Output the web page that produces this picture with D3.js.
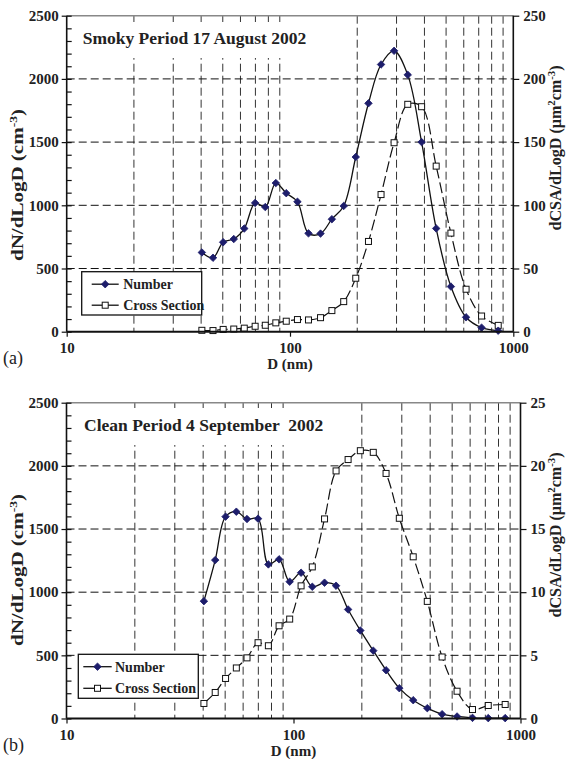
<!DOCTYPE html>
<html>
<head>
<meta charset="utf-8">
<script src="https://cdn.jsdelivr.net/npm/d3@7"></script>
<style>
  body { margin: 0; background: #fff; }
  text { font-family: "Liberation Serif", "Times New Roman", serif; }
</style>
</head>
<body>
<div id="chart"></div>
<script>
// size bins (nm), same instrument on both days
const diameters = [40.3, 45.2, 50.2, 56, 62.4, 69.8, 77.5, 86.4, 96.2, 108, 121, 137, 154, 174, 197,
                   224.6, 255.7, 292.5, 336.8, 388.5, 451.5, 525.5, 614.5, 721, 856];

// (a) smoky period 17 August 2002
const smokyNumber = [627, 585, 708, 733, 816, 1019, 986, 1176, 1096, 1028, 778, 776, 890, 995, 1382,
                     1807, 2114, 2222, 2032, 1500, 817, 357, 114, 32, 8];
const smokyCSA = [1.1, 0.9, 1.8, 2.1, 2.8, 4.3, 5.1, 7.0, 8.3, 9.6, 9.3, 11.1, 16.7, 23.8, 42.3,
                  71.4, 108.5, 149.5, 179.9, 178, 131, 78, 33.6, 12.4, 5.0];

// (b) clean period 4 September 2002
const cleanNumber = [929, 1254, 1598, 1637, 1579, 1582, 1220, 1260, 1083, 1154, 1043, 1075, 1051, 863, 697,
                     537, 382, 240, 145, 82, 34, 16, 5, 3, 3];
const cleanCSA = [1.19, 2.06, 3.17, 4.0, 4.8, 6.0, 5.76, 7.34, 7.87, 10.5, 12.0, 15.8, 19.6, 20.5, 21.2,
                  21.07, 19.4, 15.85, 12.8, 9.27, 4.87, 2.16, 0.71, 1.03, 1.11];

// ticks & grid
const xTicks = [10, 100, 1000];
const xGrid = [20, 30, 40, 50, 60, 70, 80, 90, 200, 300, 400, 500, 600, 700, 800, 900];
const numberTicks = [0, 500, 1000, 1500, 2000, 2500];
const numberMinor = d3.range(0, 2501, 100).filter(v => v % 500 !== 0);
const numberGrid = [500, 1000, 1500, 2000];
const csaTicksA = [0, 50, 100, 150, 200, 250];
const csaTicksB = [0, 5, 10, 15, 20, 25];

const NAVY = "#1d1d6b";

const svg = d3.select("#chart").append("svg")
    .attr("width", 566)
    .attr("height", 759);

function drawPanel(p) {
    const x = d3.scaleLog().domain([10, 1000]).range([p.left, p.right]);
    const y = d3.scaleLinear().domain([0, 2500]).range([p.bottom, p.top]);
    const y2 = d3.scaleLinear().domain([0, p.csaMax]).range([p.bottom, p.top]);

    const g = svg.append("g");

    // vertical dashed grid
    g.append("g").selectAll("line")
        .data(xGrid)
        .enter().append("line")
        .attr("x1", d => x(d)).attr("x2", d => x(d))
        .attr("y1", p.top).attr("y2", p.bottom)
        .attr("stroke", "#333")
        .attr("stroke-width", 1)
        .attr("stroke-dasharray", "8,4");

    // horizontal dashed grid
    g.append("g").selectAll("line")
        .data(numberGrid)
        .enter().append("line")
        .attr("x1", p.left).attr("x2", p.right)
        .attr("y1", d => y(d)).attr("y2", d => y(d))
        .attr("stroke", "#111")
        .attr("stroke-width", 1)
        .attr("stroke-dasharray", "8,4");

    // title box covers the grid
    g.append("rect")
        .attr("x", p.titleBox[0]).attr("y", p.titleBox[1])
        .attr("width", p.titleBox[2]).attr("height", p.titleBox[3])
        .attr("fill", "#fff");
    g.append("text")
        .attr("x", p.titleX).attr("y", p.titleY)
        .attr("font-size", 17.5)
        .attr("font-weight", "bold")
        .attr("fill", "#222")
        .attr("xml:space", "preserve")
        .text(p.title);

    // top border
    g.append("line")
        .attr("x1", p.left).attr("x2", p.right)
        .attr("y1", p.top).attr("y2", p.top)
        .attr("stroke", "#888").attr("stroke-width", 1.5);

    // series
    const pts = (vals, sc) => diameters.map((d, i) => [x(d), sc(vals[i])]);
    const line = d3.line().curve(d3.curveCatmullRom.alpha(0.5));

    const csaPts = pts(p.csa, y2);
    const numPts = pts(p.number, y);

    g.append("path")
        .attr("d", line(csaPts))
        .attr("fill", "none")
        .attr("stroke", "#111")
        .attr("stroke-width", 1.2)
        .attr("stroke-dasharray", "11,4");

    g.append("path")
        .attr("d", line(numPts))
        .attr("fill", "none")
        .attr("stroke", "#111")
        .attr("stroke-width", 1.3);

    g.append("g").selectAll("rect")
        .data(csaPts)
        .enter().append("rect")
        .attr("x", d => d[0] - 3).attr("y", d => d[1] - 3)
        .attr("width", 6).attr("height", 6)
        .attr("fill", "#fff")
        .attr("stroke", "#111")
        .attr("stroke-width", 1);

    const diamond = d3.symbol().type(d3.symbolDiamond2).size(36);
    g.append("g").selectAll("path")
        .data(numPts)
        .enter().append("path")
        .attr("d", diamond)
        .attr("transform", d => `translate(${d[0]},${d[1]})`)
        .attr("fill", NAVY)
        .attr("stroke", NAVY)
        .attr("stroke-width", 0.8);

    // legend
    const lg = p.legend;
    g.append("rect")
        .attr("x", lg.x).attr("y", lg.y)
        .attr("width", lg.w).attr("height", lg.h)
        .attr("fill", "#fff")
        .attr("stroke", "#111")
        .attr("stroke-width", 1.3);
    [0, 1].forEach(i => {
        const ry = lg.y + lg.rows[i];
        g.append("line")
            .attr("x1", lg.x + lg.sx0).attr("x2", lg.x + lg.sx1)
            .attr("y1", ry).attr("y2", ry)
            .attr("stroke", "#111").attr("stroke-width", 1.3);
        const mx = lg.x + (lg.sx0 + lg.sx1) / 2;
        if (i === 0) {
            g.append("path").attr("d", diamond)
                .attr("transform", `translate(${mx},${ry})`)
                .attr("fill", NAVY).attr("stroke", NAVY).attr("stroke-width", 0.8);
        } else {
            g.append("rect")
                .attr("x", mx - 3).attr("y", ry - 3)
                .attr("width", 6).attr("height", 6)
                .attr("fill", "#fff").attr("stroke", "#111");
        }
        g.append("text")
            .attr("x", lg.x + lg.tx).attr("y", ry + 5)
            .attr("font-size", 14)
            .attr("font-weight", "bold")
            .attr("fill", "#222")
            .text(i === 0 ? "Number" : "Cross Section");
    });

    // axes
    const styleAxis = sel => {
        sel.select(".domain").remove();
        sel.selectAll(".tick line").attr("stroke", "#111").attr("stroke-width", 1.2);
        sel.selectAll(".tick text")
            .attr("font-family", "Liberation Serif")
            .attr("font-size", 15)
            .attr("font-weight", "bold")
            .attr("fill", "#222");
    };
    const fmt = d3.format("d");

    g.append("g")
        .attr("transform", `translate(${p.left},0)`)
        .call(d3.axisLeft(y).tickValues(numberTicks).tickFormat(fmt).tickSizeInner(5).tickSizeOuter(0).tickPadding(3))
        .call(styleAxis);
    g.append("g")
        .attr("transform", `translate(${p.left},0)`)
        .call(d3.axisRight(y).tickValues(numberTicks.concat(numberMinor)).tickSize(5).tickFormat(""))
        .call(styleAxis);

    g.append("g")
        .attr("transform", `translate(${p.right},0)`)
        .call(d3.axisRight(y2).tickValues(p.csaTicks).tickFormat(fmt).tickSizeInner(6).tickSizeOuter(0).tickPadding(4))
        .call(styleAxis);

    g.append("g")
        .attr("transform", `translate(0,${p.bottom})`)
        .call(d3.axisBottom(x).tickValues(xTicks).tickFormat(fmt).tickSizeInner(5).tickSizeOuter(0).tickPadding(6))
        .call(styleAxis);

    // axis lines
    g.append("line")
        .attr("x1", p.left).attr("x2", p.left)
        .attr("y1", p.top).attr("y2", p.bottom)
        .attr("stroke", "#111").attr("stroke-width", 1.6);
    g.append("line")
        .attr("x1", p.right).attr("x2", p.right)
        .attr("y1", p.top).attr("y2", p.bottom)
        .attr("stroke", "#111").attr("stroke-width", 1.6);
    g.append("line")
        .attr("x1", p.left).attr("x2", p.right)
        .attr("y1", p.bottom).attr("y2", p.bottom)
        .attr("stroke", "#111").attr("stroke-width", 2);

    // axis titles
    g.append("text")
        .attr("x", x(100)).attr("y", p.bottom + 37)
        .attr("text-anchor", "middle")
        .attr("font-size", 15).attr("font-weight", "bold").attr("fill", "#222")
        .text("D (nm)");

    g.append("text")
        .attr("x", 3).attr("y", p.bottom + 32)
        .attr("font-size", 18).attr("fill", "#222")
        .text(p.tag);

    const yl = g.append("text")
        .attr("transform", `translate(23,${p.leftLabelY}) rotate(-90)`)
        .attr("text-anchor", "middle")
        .attr("font-size", 17).attr("font-weight", "bold").attr("fill", "#222")
        .attr("textLength", 152)
        .attr("lengthAdjust", "spacingAndGlyphs");
    yl.append("tspan").text("dN/dLogD (cm");
    yl.append("tspan").attr("baseline-shift", "super").attr("font-size", 11).text("-3");
    yl.append("tspan").text(")");

    const yr = g.append("text")
        .attr("transform", `translate(561,${p.rightLabelY}) rotate(-90)`)
        .attr("text-anchor", "middle")
        .attr("font-size", 16.5).attr("font-weight", "bold").attr("fill", "#222")
        .attr("textLength", 165)
        .attr("lengthAdjust", "spacingAndGlyphs");
    yr.append("tspan").text("dCSA/dLogD (\u03bcm");
    yr.append("tspan").attr("baseline-shift", "super").attr("font-size", 11).text("2");
    yr.append("tspan").attr("baseline-shift", "baseline").text("cm");
    yr.append("tspan").attr("baseline-shift", "super").attr("font-size", 11).text("-3");
    yr.append("tspan").attr("baseline-shift", "baseline").text(")");
}

drawPanel({
    left: 66.7, right: 513.3, top: 15.7, bottom: 331.7,
    number: smokyNumber, csa: smokyCSA, csaMax: 250, csaTicks: csaTicksA,
    title: "Smoky Period 17 August 2002",
    titleBox: [72, 22, 240, 36], titleX: 82.7, titleY: 43.5,
    legend: { x: 81.7, y: 271.7, w: 120, h: 43.3, rows: [12.5, 33.5], sx0: 10, sx1: 37, tx: 41.5 },
    tag: "(a)", leftLabelY: 185, rightLabelY: 148
});

drawPanel({
    left: 66.5, right: 520.5, top: 402.7, bottom: 718.5,
    number: cleanNumber, csa: cleanCSA, csaMax: 25, csaTicks: csaTicksB,
    title: "Clean Period 4 September  2002",
    titleBox: [72, 408, 254, 37], titleX: 84, titleY: 430.5,
    legend: { x: 78.3, y: 654.3, w: 120, h: 44, rows: [12.4, 34], sx0: 5, sx1: 33.4, tx: 36.7 },
    tag: "(b)", leftLabelY: 570, rightLabelY: 535
});
</script>
</body>
</html>
